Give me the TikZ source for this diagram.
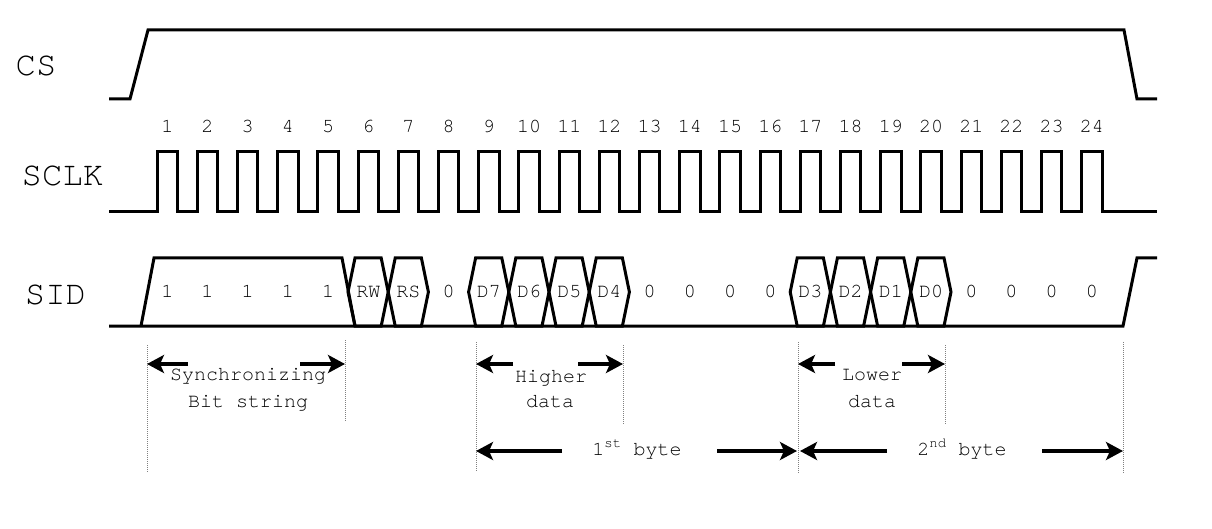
\documentclass[tikz,border=0pt]{standalone}
\usepackage{fontspec}
\setmainfont{texgyrecursor}[Extension=.otf, UprightFont=*-regular, BoldFont=*-bold]
\usetikzlibrary{arrows.meta}
\begin{document}
\begin{tikzpicture}[x=1pt,y=-1pt,
  sig/.style={line width=3pt, line join=miter},
  dimarrow/.style={line width=4pt, -{Stealth[length=17pt,width=18pt,inset=4pt]}},
  guide/.style={draw=gray, line width=1pt, dash pattern=on 1pt off 1pt},
  lbl/.style={font=\fontsize{20}{24}\selectfont, inner sep=0pt, anchor=base},
  biglbl/.style={font=\fontsize{34}{40}\selectfont, inner sep=0pt, anchor=base}]
\useasboundingbox (0,0) rectangle (1212,529);
\def\per{40.2}
% signal names
\node[biglbl] (cs)   at (36,76)   {CS};
\node[biglbl] (sclk) at (62.5,186) {SCLK};
\node[biglbl] (sid)  at (55.5,304) {SID};
% CS
\draw[sig] (109,99) -- (130,99) -- (148,30) -- (1124,30) -- (1137,99) -- (1157,99);
% SCLK
\draw[sig] (109,212) foreach \k in {0,...,23} { -- ({157+\per*\k},212) -- ({157+\per*\k},152) -- ({177.5+\per*\k},152) -- ({177.5+\per*\k},212) } -- (1157,212);
% clock numbers
\foreach \k in {1,...,24} {
  \node[lbl] (n\k) at ({167.25+\per*(\k-1)},133) {\k};
}
% SID
\draw[sig] (109,326) -- (1123,326) -- (1137,258) -- (1157,258);
\draw[sig] (141,326) -- (154,258) -- (342,258) -- (355,326);
\foreach \k in {6,7,9,10,11,12,17,18,19,20} {
  \pgfmathsetmacro{\bs}{147+\per*(\k-1)}
  \pgfmathsetmacro{\be}{\bs+\per}
  \draw[sig] (\bs,292) -- ({\bs+7},258) -- ({\be-7},258) -- (\be,292) -- ({\be-7},326) -- ({\bs+7},326) -- cycle;
}
\foreach \k/\t in {1/1,2/1,3/1,4/1,5/1,6/RW,7/RS,8/0,9/D7,10/D6,11/D5,12/D4,13/0,14/0,15/0,16/0,17/D3,18/D2,19/D1,20/D0,21/0,22/0,23/0,24/0} {
  \node[lbl] (s\k) at ({167.25+\per*(\k-1)},297) {\t};
}
% guide lines
\coordinate (g1t) at (147,345);  \coordinate (g1b) at (147,472);
\coordinate (g2t) at (345,340);  \coordinate (g2b) at (345,421);
\coordinate (g3t) at (476,342);  \coordinate (g3b) at (476,472);
\coordinate (g4t) at (623,345);  \coordinate (g4b) at (623,425);
\coordinate (g5t) at (798,342);  \coordinate (g5b) at (798,473);
\coordinate (g6t) at (945,345);  \coordinate (g6b) at (945,425);
\coordinate (g7t) at (1123,342); \coordinate (g7b) at (1123,473);
\foreach \g in {1,...,7} { \draw[guide] (g\g t) -- (g\g b); }
% dimension arrows
\coordinate (a1) at (188,364);  \coordinate (a1e) at (147,364);
\coordinate (a2) at (300,364);  \coordinate (a2e) at (345,364);
\coordinate (a3) at (513,364);  \coordinate (a3e) at (476,364);
\coordinate (a4) at (578,364);  \coordinate (a4e) at (623,364);
\coordinate (a5) at (835,364);  \coordinate (a5e) at (798,364);
\coordinate (a6) at (902,364);  \coordinate (a6e) at (945,364);
\coordinate (a7) at (562,451);  \coordinate (a7e) at (476,451);
\coordinate (a8) at (717,451);  \coordinate (a8e) at (797,451);
\coordinate (a9) at (887,451);  \coordinate (a9e) at (800,451);
\coordinate (a10) at (1042,451); \coordinate (a10e) at (1123,451);
\foreach \a in {1,...,10} { \draw[dimarrow] (a\a) -- (a\a e); }
% annotation texts
\node[lbl] (sync1) at (248,380) {Synchronizing};
\node[lbl] (sync2) at (248,407) {Bit string};
\node[lbl] (hi1)   at (551,382) {Higher};
\node[lbl] (hi2)   at (550,407) {data};
\node[lbl] (lo1)   at (872,380) {Lower};
\node[lbl] (lo2)   at (872,407) {data};
\node[lbl] (b1)    at (637,455) {1\textsuperscript{st} byte};
\node[lbl] (b2)    at (962,455) {2\textsuperscript{nd} byte};
\end{tikzpicture}
\end{document}
